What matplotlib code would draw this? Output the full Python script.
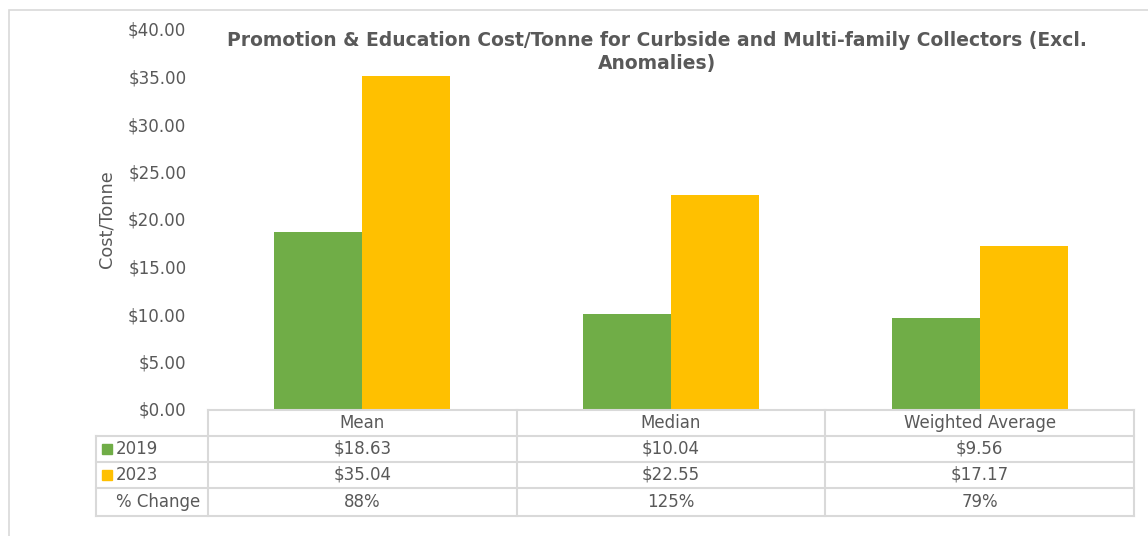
import numpy as np
import matplotlib
matplotlib.use("Agg")
import matplotlib.pyplot as plt
from matplotlib.transforms import blended_transform_factory
from matplotlib.patches import Rectangle

# Cost per tonne by statistic
categories = ["Mean", "Median", "Weighted Average"]
cost_2019 = [18.63, 10.04, 9.56]
cost_2023 = [35.04, 22.55, 17.17]
pct_change = ["88%", "125%", "79%"]
series_names = ["2019", "2023"]
yticks = [0, 5, 10, 15, 20, 25, 30, 35, 40]

GREEN = "#70AD47"
YELLOW = "#FFC000"
TEXT = "#595959"
LINE = "#D9D9D9"

W, H = 1148, 536
fig = plt.figure(figsize=(W / 100, H / 100), dpi=100)


def fx(px):
    return px / W


def fy(py):
    return 1 - py / H


# chart area border
fig.patches.append(Rectangle((fx(9), fy(600)), fx(1200), fy(10) - fy(600),
                             transform=fig.transFigure, fill=False,
                             edgecolor=LINE, linewidth=1.2))

left, right, top, base = 208, 1134, 29, 409
ax = fig.add_axes([fx(left), fy(base), fx(right - left), fy(top) - fy(base)])

x = np.arange(len(categories))
width = 0.285
ax.bar(x - width / 2, cost_2019, width, color=GREEN, label=series_names[0])
ax.bar(x + width / 2, cost_2023, width, color=YELLOW, label=series_names[1])

ax.set_xlim(-0.5, len(categories) - 0.5)
ax.set_ylim(0, 40)
ax.set_yticks(yticks)
ax.set_yticklabels([f"${v:.2f}" for v in yticks], fontsize=12.1, color=TEXT)
ax.tick_params(axis="y", length=0, pad=15.5)
ax.set_xticks([])
for s in ax.spines.values():
    s.set_visible(False)
ax.set_facecolor("none")

fig.text(fx(107), fy(219), "Cost/Tonne", rotation=90, ha="center", va="center",
         fontsize=12.8, color=TEXT)

fig.text(fx(657), fy(41), "Promotion & Education Cost/Tonne for Curbside and Multi-family Collectors (Excl.",
         ha="center", va="center", fontsize=13.5, fontweight="bold", color=TEXT)
fig.text(fx(657), fy(63), "Anomalies)", ha="center", va="center",
         fontsize=13.5, fontweight="bold", color=TEXT)

# data table below the plot
rows_y = [410, 436, 462, 488, 516]
col_x = [96, 208, 517, 825, 1134]


def hline(py, x0, x1):
    fig.add_artist(plt.Line2D([fx(x0), fx(x1)], [fy(py), fy(py)],
                              transform=fig.transFigure, color=LINE, linewidth=1.5))


def vline(px, y0, y1):
    fig.add_artist(plt.Line2D([fx(px), fx(px)], [fy(y0), fy(y1)],
                              transform=fig.transFigure, color=LINE, linewidth=1.5))


hline(rows_y[0], col_x[1], col_x[-1])
for py in rows_y[1:]:
    hline(py, col_x[0], col_x[-1])
vline(col_x[0], rows_y[1], rows_y[-1])
for px in col_x[1:]:
    vline(px, rows_y[0], rows_y[-1])

tr = blended_transform_factory(ax.transData, fig.transFigure)
row_values = [categories,
              [f"${v:.2f}" for v in cost_2019],
              [f"${v:.2f}" for v in cost_2023],
              pct_change]
for r, vals in enumerate(row_values):
    cy = fy((rows_y[r] + rows_y[r + 1]) / 2)
    for i, v in enumerate(vals):
        ax.text(x[i], cy, v, transform=tr, ha="center", va="center",
                fontsize=12, color=TEXT, clip_on=False)

# row headers with legend keys
for r, (name, color) in enumerate(zip(series_names, [GREEN, YELLOW])):
    cy = (rows_y[r + 1] + rows_y[r + 2]) / 2
    fig.patches.append(Rectangle((fx(102), fy(cy + 5)), fx(10), fy(cy - 5) - fy(cy + 5),
                                 transform=fig.transFigure, color=color))
    fig.text(fx(116), fy(cy), name, ha="left", va="center", fontsize=12, color=TEXT)
cy = (rows_y[3] + rows_y[4]) / 2
fig.text(fx(116), fy(cy), "% Change", ha="left", va="center", fontsize=12, color=TEXT)

fig.savefig("out.png", dpi=100)
